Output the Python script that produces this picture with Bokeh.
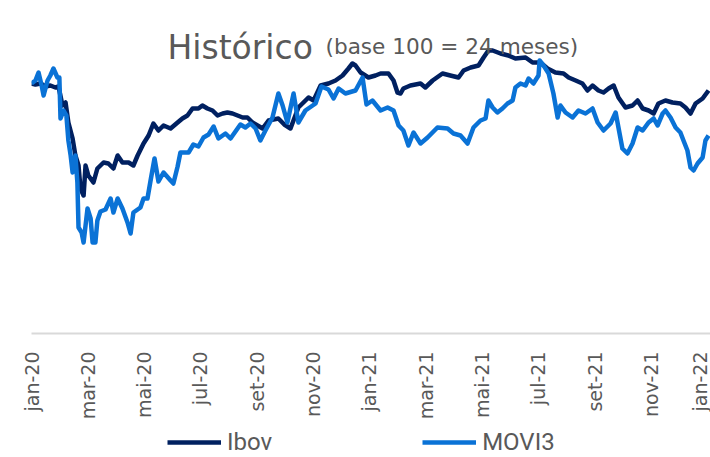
from math import pi
from bokeh.plotting import figure
from bokeh.layouts import column
from bokeh.models import Range1d, FixedTicker, Label, Legend, LegendItem
from bokeh.embed import file_html
from bokeh.resources import INLINE

# x = months since jan-2020 ; y = index (base 100)
ibov_month = [0.00, 0.14, 0.32, 0.50, 0.67, 0.85, 0.96, 1.10, 1.21, 1.31,
              1.46, 1.56, 1.67, 1.74, 1.85, 1.92, 2.02, 2.20, 2.34, 2.56,
              2.73, 2.91, 3.06, 3.23, 3.45, 3.62, 3.77, 3.98, 4.16, 4.33,
              4.51, 4.69, 4.94, 5.19, 5.36, 5.54, 5.72, 5.93, 6.07, 6.25,
              6.43, 6.61, 6.79, 6.96, 7.14, 7.32, 7.50, 7.67, 7.85, 8.03,
              8.21, 8.42, 8.77, 8.98, 9.20, 9.48, 9.84, 10.02, 10.27, 10.55,
              10.80, 11.05, 11.26, 11.40, 11.51, 11.69, 11.97, 12.22, 12.40, 12.68,
              12.86, 13.00, 13.11, 13.21, 13.46, 13.82, 13.99, 14.25, 14.60, 14.88,
              15.17, 15.35, 15.60, 15.88, 16.06, 16.23, 16.38, 16.66, 16.94, 17.19,
              17.55, 17.80, 18.08, 18.33, 18.61, 18.90, 19.08, 19.33, 19.57, 19.75,
              19.93, 20.14, 20.32, 20.50, 20.68, 20.85, 21.10, 21.35, 21.53, 21.71,
              21.92, 22.10, 22.27, 22.52, 22.77, 23.05, 23.23, 23.41, 23.59, 23.84,
              24.05]
ibov_value = [100.0, 99.6, 100.0, 98.8, 99.2, 98.4, 98.8, 91.2, 92.4, 84.4,
              78.0, 71.2, 67.2, 58.0, 55.2, 67.2, 63.2, 60.4, 66.0, 68.4,
              68.0, 66.0, 71.2, 68.4, 68.4, 67.2, 71.2, 76.0, 79.2, 84.0,
              81.2, 83.2, 82.0, 84.4, 86.0, 87.2, 90.0, 90.0, 91.2, 90.0,
              89.2, 87.2, 88.0, 88.4, 88.0, 87.2, 86.4, 86.4, 84.4, 83.2,
              82.0, 85.2, 86.0, 83.6, 82.0, 90.4, 94.4, 93.2, 99.2, 100.0,
              101.2, 103.2, 106.0, 108.0, 107.2, 104.4, 102.4, 103.2, 104.0, 104.0,
              101.2, 96.4, 96.0, 98.0, 99.2, 100.0, 98.4, 101.2, 104.0, 103.2,
              102.4, 105.2, 106.4, 107.2, 110.4, 113.2, 113.2, 112.0, 111.2, 110.0,
              110.4, 108.4, 108.4, 106.0, 104.4, 104.0, 102.4, 101.2, 100.0, 97.2,
              99.2, 97.2, 96.4, 98.0, 99.2, 94.4, 90.4, 91.2, 93.2, 90.0,
              89.2, 88.0, 92.0, 93.2, 92.4, 92.0, 90.4, 88.0, 92.0, 94.0,
              97.2]

movi_month = [0.00, 0.14, 0.25, 0.36, 0.43, 0.57, 0.67, 0.78, 0.92, 0.99,
              1.03, 1.14, 1.24, 1.31, 1.39, 1.46, 1.56, 1.63, 1.67, 1.78,
              1.85, 1.92, 1.99, 2.10, 2.17, 2.27, 2.34, 2.45, 2.63, 2.81,
              2.91, 3.06, 3.23, 3.41, 3.52, 3.62, 3.87, 3.98, 4.12, 4.23,
              4.37, 4.51, 4.69, 4.94, 5.04, 5.19, 5.29, 5.58, 5.75, 5.93,
              6.11, 6.29, 6.47, 6.64, 6.89, 7.07, 7.32, 7.42, 7.60, 7.78,
              7.96, 8.13, 8.31, 8.56, 8.77, 8.92, 9.09, 9.31, 9.48, 9.73,
              10.09, 10.30, 10.55, 10.73, 10.91, 11.15, 11.51, 11.76, 11.90, 12.11,
              12.40, 12.65, 12.86, 13.04, 13.21, 13.39, 13.57, 13.82, 14.07, 14.42,
              14.78, 14.99, 15.24, 15.49, 15.70, 15.95, 16.13, 16.23, 16.38, 16.55,
              16.73, 16.91, 17.09, 17.19, 17.37, 17.55, 17.66, 17.83, 18.01, 18.05,
              18.19, 18.37, 18.54, 18.69, 18.79, 18.97, 19.22, 19.43, 19.68, 19.93,
              20.11, 20.32, 20.57, 20.75, 20.85, 20.99, 21.17, 21.35, 21.53, 21.71,
              21.92, 22.10, 22.24, 22.42, 22.52, 22.70, 22.88, 23.05, 23.16, 23.30,
              23.41, 23.52, 23.66, 23.84, 23.94, 24.05]
movi_value = [100.0, 101.2, 104.4, 99.2, 95.2, 101.2, 103.2, 106.0, 102.4, 102.4,
              86.0, 89.2, 87.2, 77.2, 71.2, 64.4, 71.2, 60.4, 42.4, 40.4,
              36.4, 43.2, 50.0, 46.0, 36.4, 36.4, 45.2, 48.8, 49.6, 54.0,
              48.4, 54.0, 50.0, 44.4, 40.0, 48.4, 50.4, 54.0, 54.0, 61.2,
              70.0, 60.8, 64.4, 61.2, 60.0, 66.8, 72.4, 72.4, 75.6, 74.8,
              78.4, 79.6, 82.8, 78.0, 80.0, 78.0, 82.0, 83.6, 82.4, 84.0,
              82.0, 77.2, 81.2, 86.4, 96.0, 91.2, 84.4, 96.0, 84.4, 89.2,
              92.0, 98.8, 97.6, 94.0, 98.0, 96.0, 97.2, 102.4, 91.6, 93.2,
              89.2, 90.4, 89.2, 83.2, 81.2, 75.2, 80.4, 76.0, 78.4, 82.4,
              82.0, 80.0, 79.2, 76.0, 82.4, 85.2, 86.0, 93.2, 90.4, 88.4,
              90.0, 92.0, 93.2, 98.4, 100.0, 99.2, 102.0, 100.0, 103.2, 109.2,
              107.2, 104.0, 96.0, 86.4, 91.2, 88.4, 86.4, 89.2, 88.0, 90.0,
              84.4, 81.2, 84.0, 88.4, 82.4, 74.0, 72.0, 76.0, 82.4, 81.2,
              84.4, 86.0, 83.2, 88.0, 89.2, 86.4, 82.4, 80.4, 77.2, 73.2,
              66.4, 65.2, 68.0, 70.4, 77.2, 79.2]

tick_months = [0, 2, 4, 6, 8, 10, 12, 14, 16, 18, 20, 22, 24]
tick_labels = ["jan-20", "mar-20", "mai-20", "jul-20", "set-20", "nov-20", "jan-21",
               "mar-21", "mai-21", "jul-21", "set-21", "nov-21", "jan-22"]
series_names = ["Ibov", "MOVI3"]

assert len(ibov_month) == len(ibov_value)
assert len(movi_month) == len(movi_value)

GRAY = "#595959"
IBOV_COLOR = "#002060"
MOVI_COLOR = "#0A72D6"
LW = 4.5

p = figure(width=710, height=425, output_backend="svg", toolbar_location=None,
           x_range=Range1d(0, 24.12), y_range=Range1d(0, 133.2),
           y_axis_location=None,
           min_border_left=31, min_border_right=0, min_border_top=0,
           min_border_bottom=92)
p.grid.visible = False
p.outline_line_color = None
p.background_fill_color = "white"
p.border_fill_color = "white"

ax = p.xaxis[0]
ax.ticker = FixedTicker(ticks=tick_months)
ax.major_label_overrides = {m: t for m, t in zip(tick_months, tick_labels)}
ax.major_label_orientation = pi / 2
ax.major_label_standoff = 12
ax.major_label_text_font = "DejaVu Sans"
ax.major_label_text_font_size = "19px"
ax.major_label_text_color = GRAY
ax.major_tick_line_color = None
ax.minor_tick_line_color = None
ax.axis_line_color = "#d9d9d9"
ax.axis_line_width = 2

p.line(ibov_month, ibov_value, line_color=IBOV_COLOR, line_width=LW, line_join="round")
p.line(movi_month, movi_value, line_color=MOVI_COLOR, line_width=LW, line_join="round")

p.add_layout(Label(x=136, y=286, x_units="screen", y_units="screen", text="Histórico",
                   text_font="DejaVu Sans", text_font_size="33px", text_color=GRAY,
                   text_baseline="alphabetic"))
p.add_layout(Label(x=294, y=287, x_units="screen", y_units="screen",
                   text="(base 100 = 24 meses)",
                   text_font="DejaVu Sans", text_font_size="21.6px", text_color=GRAY,
                   text_baseline="alphabetic"))

# legend strip below the chart (legend keys only; no data drawn)
nan = float("nan")
lg = figure(width=710, height=32, output_backend="svg", toolbar_location=None,
            x_range=Range1d(0, 1), y_range=Range1d(0, 1),
            x_axis_location=None, y_axis_location=None, min_border=0)
lg.grid.visible = False
lg.outline_line_color = None
k1 = lg.line([nan], [nan], line_color=IBOV_COLOR, line_width=LW)
k2 = lg.line([nan], [nan], line_color=MOVI_COLOR, line_width=LW)
leg = Legend(items=[LegendItem(label=series_names[0], renderers=[k1]),
                    LegendItem(label=series_names[1], renderers=[k2])],
             location=(136, 1), orientation="horizontal",
             glyph_width=54, glyph_height=28, label_height=28,
             padding=0, margin=0, spacing=150, border_line_color=None,
             background_fill_alpha=0, label_standoff=6,
             label_text_font="Roboto",
             label_text_font_size="24px", label_text_color=GRAY)
lg.add_layout(leg)

layout = column(p, lg, spacing=0)
open("out.html", "w").write(file_html(layout, INLINE))
